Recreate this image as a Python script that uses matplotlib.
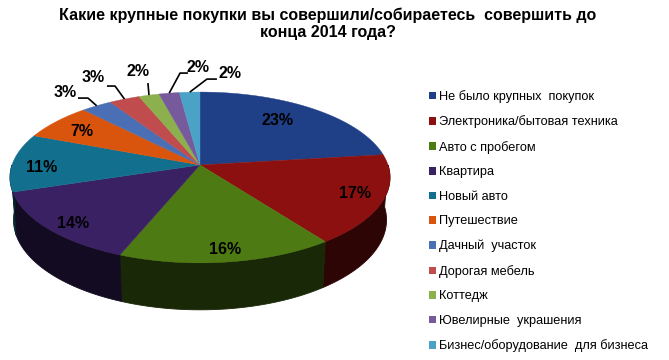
import numpy as np
import matplotlib
matplotlib.use("Agg")
import matplotlib.pyplot as plt
from matplotlib.patches import Polygon, Rectangle
from matplotlib.colors import to_rgb

plt.rcParams['font.family'] = ['Liberation Sans', 'DejaVu Sans']

title = "Какие крупные покупки вы совершили/собираетесь  совершить до\nконца 2014 года?"
categories = [
    "Не было крупных  покупок",
    "Электроника/бытовая техника",
    "Авто с пробегом",
    "Квартира",
    "Новый авто",
    "Путешествие",
    "Дачный  участок",
    "Дорогая мебель",
    "Коттедж",
    "Ювелирные  украшения",
    "Бизнес/оборудование  для бизнеса",
]
values = [23, 17, 16, 14, 11, 7, 3, 3, 2, 2, 2]
colors = ["#1f3f86", "#8c1010", "#4d7a12", "#3a2163", "#126f8e", "#d9540c",
          "#4a6fb5", "#c04c4e", "#8db04e", "#765a9c", "#4aa3c6"]

# label positions in the projected pie space (units = radius at centre depth)
label_pos = [(0.41, 0.239), (0.824, -0.149), (0.133, -0.452), (-0.676, -0.309),
             (-0.84, -0.011), (-0.628, 0.176), (-0.718, 0.383), (-0.569, 0.463),
             (-0.33, 0.495), (-0.011, 0.516), (0.16, 0.489)]
# leader lines for the small slices: knee point and end point near the label
leaders = {6: [(-0.596, 0.356), (-0.649, 0.356)],
           7: [(-0.452, 0.42), (-0.495, 0.42)],
           8: [(-0.277, 0.436), (-0.277, 0.436)],
           9: [(-0.106, 0.489), (-0.064, 0.489)],
           10: [(0.037, 0.457), (0.09, 0.457)]}

# simple perspective camera for the 3d pie
elev, dist, thick = np.radians(26.4), 6.14, 0.254


def project(phi, y=0.0):
    X, Z = np.cos(phi), np.sin(phi)
    up = y * np.cos(elev) + Z * np.sin(elev)
    depth = dist + Z * np.cos(elev) - y * np.sin(elev)
    return X * dist / depth, up * dist / depth


fig = plt.figure(figsize=(6.69, 3.6), dpi=100)
W, H = 669, 360
px0, py0, scale = 200, 165, 188     # pixel position of pie centre, px per unit
ax = fig.add_axes([0, 0, 1, 1])
ax.set_xlim(-px0 / scale, (W - px0) / scale)
ax.set_ylim((py0 - H) / scale, py0 / scale)
ax.axis('off')

bounds = np.radians(90 - 3.6 * np.concatenate([[0], np.cumsum(values)]))

# sides (front half only)
for i in range(len(values)):
    a1, a2 = bounds[i], bounds[i + 1]
    hi, lo = min(a1, 0), max(a2, -np.pi)
    if lo >= hi:
        continue
    t = np.linspace(hi, lo, 80)
    tx, ty = project(t)
    bx, by = project(t[::-1], -thick)
    side = np.array(to_rgb(colors[i])) * 0.33
    ax.add_patch(Polygon(np.column_stack([np.r_[tx, bx], np.r_[ty, by]]),
                         closed=True, fc=side, ec=side, lw=0.6, zorder=2))

# top face
for i in range(len(values)):
    t = np.linspace(bounds[i], bounds[i + 1], 120)
    tx, ty = project(t)
    pts = np.column_stack([np.r_[0, tx], np.r_[0, ty]])
    ax.add_patch(Polygon(pts, closed=True, fc=colors[i], ec=colors[i],
                         lw=0.3, zorder=3))

for i, v in enumerate(values):
    x, y = label_pos[i]
    ax.text(x, y, f"{v}%", ha='center', va='center', fontsize=11.5,
            fontweight='bold', color='black', zorder=5)
    if i in leaders:
        mid = (bounds[i] + bounds[i + 1]) / 2
        ex, ey = project(mid)
        (kx, ky), (lx, ly) = leaders[i]
        ax.plot([ex, kx, lx], [ey, ky, ly], color='black', lw=1.2,
                zorder=4, solid_capstyle='butt')

fig.text(328 / W, 1 - 8 / H, title, ha='center', va='top', fontsize=11.5,
         fontweight='bold', linespacing=1.15)

handles = [Rectangle((0, 0), 1, 1, fc=c, ec='none') for c in colors]
fig.legend(handles, categories, loc='upper left',
           bbox_to_anchor=(429 / W, 1 - 90 / H), frameon=False,
           fontsize=9.2, handlelength=0.55, handleheight=0.55,
           handletextpad=0.25, labelspacing=0.98, borderpad=0, borderaxespad=0)

fig.savefig("out.png", dpi=100, facecolor='white')
